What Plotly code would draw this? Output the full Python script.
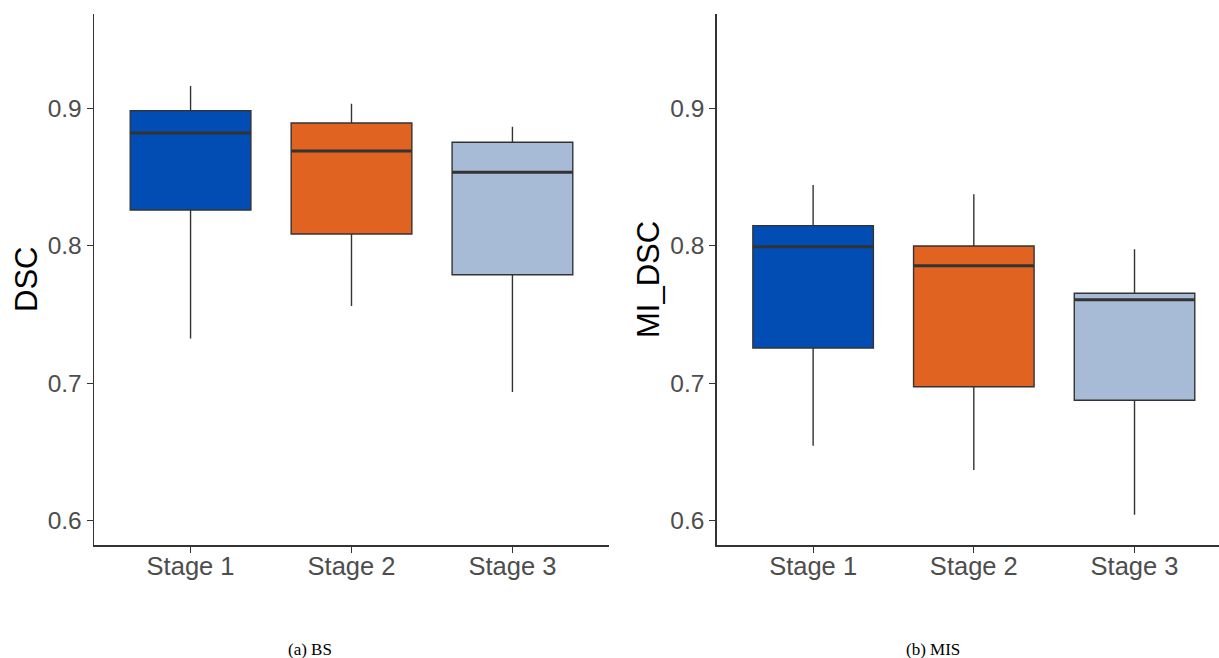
import plotly.graph_objects as go

stages = ["Stage 1", "Stage 2", "Stage 3"]
colors = ["#014DB4", "#E06321", "#A8BBD6"]

# Panel (a) BS — DSC
bs_low = [0.7325, 0.7561, 0.6935]
bs_q1 = [0.8260, 0.8085, 0.7789]
bs_med = [0.8820, 0.8689, 0.8534]
bs_q3 = [0.8983, 0.8893, 0.8753]
bs_high = [0.9162, 0.9033, 0.8866]

# Panel (b) MIS — MI_DSC
mis_low = [0.6544, 0.6368, 0.6042]
mis_q1 = [0.7256, 0.6974, 0.6875]
mis_med = [0.7993, 0.7854, 0.7607]
mis_q3 = [0.8146, 0.7998, 0.7654]
mis_high = [0.8442, 0.8375, 0.7974]

y_ticks = [0.6, 0.7, 0.8, 0.9]
captions = ["(a) BS", "(b) MIS"]
y_titles = ["DSC", "MI_DSC"]

W, H = 1219, 658
BOX_W = 0.75
OUTLINE = "#333333"

fig = go.Figure()

panels = [
    ("x", "y", bs_low, bs_q1, bs_med, bs_q3, bs_high),
    ("x2", "y2", mis_low, mis_q1, mis_med, mis_q3, mis_high),
]
for xa, ya, lo, q1, med, q3, hi in panels:
    for i, s in enumerate(stages):
        fig.add_trace(go.Box(
            x=[s], lowerfence=[lo[i]], q1=[q1[i]], median=[med[i]],
            q3=[q3[i]], upperfence=[hi[i]],
            fillcolor=colors[i], line=dict(color=OUTLINE, width=1.4),
            width=BOX_W, whiskerwidth=0, boxpoints=False,
            xaxis=xa, yaxis=ya, showlegend=False, hoverinfo="skip",
        ))
        # thicker median line, as in the reference
        fig.add_shape(type="line", xref=xa, yref=ya,
                      x0=i - BOX_W / 2, x1=i + BOX_W / 2,
                      y0=med[i], y1=med[i],
                      line=dict(color=OUTLINE, width=3))

def px_x(v):
    return v / W

def px_y(v):
    return 1 - v / H

ydom = [px_y(545), px_y(14.3)]
tickfont_y = dict(family="Liberation Sans, Arial, sans-serif", size=24.5, color="#4D4D4D")
tickfont_x = dict(family="Liberation Sans, Arial, sans-serif", size=25.5, color="#4D4D4D")
common_x = dict(type="category", categoryorder="array", categoryarray=stages,
                showline=True, linecolor="#333333", linewidth=1.8,
                ticks="outside", ticklen=6, tickwidth=1.2, tickcolor="#333333",
                ticklabelstandoff=-8,
                showgrid=False, zeroline=False, tickfont=tickfont_x, fixedrange=True)
common_y = dict(range=[0.5822, 0.9684], tickvals=y_ticks, tickformat=".1f",
                showline=True, linecolor="#333333", linewidth=1.4,
                ticks="outside", ticklen=6, tickwidth=1.2, tickcolor="#333333",
                showgrid=False, zeroline=False, tickfont=tickfont_y, fixedrange=True,
                domain=ydom)

fig.update_layout(
    width=W, height=H,
    margin=dict(l=0, r=0, t=0, b=0),
    paper_bgcolor="white", plot_bgcolor="white",
    boxmode="overlay",
    xaxis=dict(common_x, domain=[px_x(94), px_x(609)], range=[-0.6, 2.6], anchor="y"),
    yaxis=dict(common_y, anchor="x"),
    xaxis2=dict(common_x, domain=[px_x(716.7), 1.0],
                range=[-0.6, -0.6 + (W - 716.7) / 160.7], anchor="y2"),
    yaxis2=dict(common_y, anchor="x2"),
)

title_font = dict(family="Liberation Sans, Arial, sans-serif", size=31, color="black")
for xpix, txt in [(27, y_titles[0]), (649, y_titles[1])]:
    fig.add_annotation(text=txt, xref="paper", yref="paper",
                       x=px_x(xpix), y=px_y(280), textangle=-90,
                       showarrow=False, font=title_font,
                       xanchor="center", yanchor="middle")

cap_font = dict(family="Liberation Serif, Times New Roman, serif", size=17, color="black")
for xpix, txt in [(310, captions[0]), (932.5, captions[1])]:
    fig.add_annotation(text=txt, xref="paper", yref="paper",
                       x=px_x(xpix), y=px_y(649), showarrow=False, font=cap_font,
                       xanchor="center", yanchor="middle")

fig.write_html(
    "out.html",
    config={"displayModeBar": False, "staticPlot": True},
    post_script="document.body.style.margin='0';document.body.style.overflow='hidden';",
)
